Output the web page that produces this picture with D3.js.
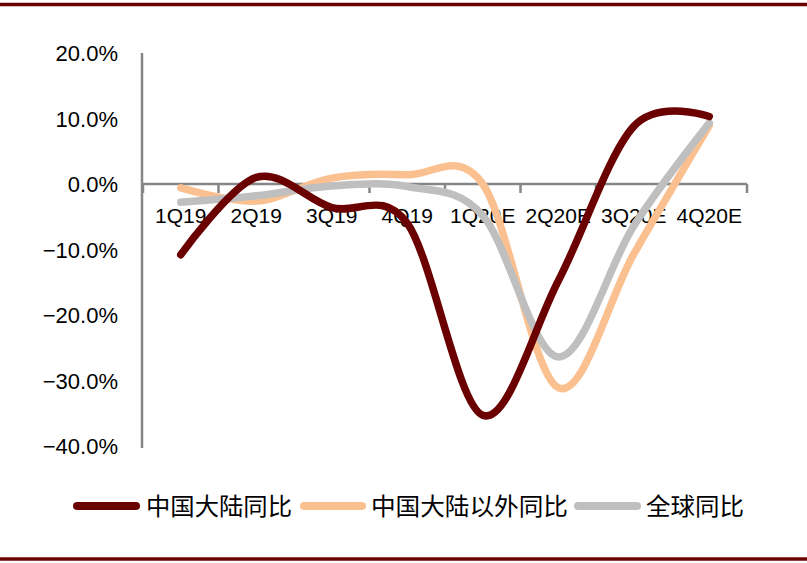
<!DOCTYPE html>
<html><head><meta charset="utf-8">
<script src="https://cdn.jsdelivr.net/npm/d3@7"></script>
<style>body{margin:0;background:#fff}svg{display:block}</style>
</head><body>
<svg id="c" width="807" height="563"></svg>
<script>
const categories = ["1Q19","2Q19","3Q19","4Q19","1Q20E","2Q20E","3Q20E","4Q20E"];
const seriesNames = ["中国大陆同比","中国大陆以外同比","全球同比"];
const chinaMainland = [-10.8, 1.0, -3.6, -6.0, -35.3, -14.8, 8.8, 10.3];
const outsideChina  = [-0.6, -2.6, 0.9, 1.4, 0.0, -31.1, -10.7, 8.9];
const globalYoY     = [-2.8, -1.8, -0.3, -0.4, -4.8, -26.4, -6.4, 9.3];
const yTicks = [20, 10, 0, -10, -20, -30, -40];
const colors = ["#6B0000", "#FAC090", "#BFBFBF"];

const svg = d3.select("#c");
const x = d3.scaleBand().domain(categories).range([143, 747]);
const y = d3.scaleLinear().domain([-40, 20]).range([446, 53]);
const cx = c => x(c) + x.bandwidth() / 2;

// borders
svg.append("line").attr("x1",0).attr("x2",807).attr("y1",4.5).attr("y2",4.5)
  .attr("stroke","#6B0000").attr("stroke-width",3.5);
svg.append("line").attr("x1",0).attr("x2",807).attr("y1",559).attr("y2",559)
  .attr("stroke","#6B0000").attr("stroke-width",3.5);

// y axis
svg.append("line").attr("x1",142).attr("x2",142).attr("y1",y(20)).attr("y2",y(-40) + 2)
  .attr("stroke","#868686").attr("stroke-width",2.5);
svg.selectAll("text.yl").data(yTicks).join("text").attr("class","yl")
  .attr("x",118).attr("y",d => y(d) + 8)
  .attr("text-anchor","end").attr("font-family","Liberation Sans, Arial, sans-serif")
  .attr("font-size",22).attr("fill","#000")
  .text(d => d3.format(".1f")(d) + "%");

// x axis
const gx = svg.append("g").attr("transform", `translate(0,${y(0)})`);
gx.append("line").attr("x1",142).attr("x2",747).attr("y1",0).attr("y2",0)
  .attr("stroke","#868686").attr("stroke-width",2.5);
const bounds = categories.map(c => x(c)).concat([x.range()[1]]);
gx.selectAll("line.tk").data(bounds).join("line").attr("class","tk")
  .attr("x1",d=>d).attr("x2",d=>d).attr("y1",0).attr("y2",9)
  .attr("stroke","#868686").attr("stroke-width",2.5);
svg.selectAll("text.xl").data(categories).join("text").attr("class","xl")
  .attr("x",d => cx(d)).attr("y",223)
  .attr("text-anchor","middle").attr("font-family","Liberation Sans, Arial, sans-serif")
  .attr("font-size",21).attr("fill","#000").text(d => d);

// lines
const line = d3.line().x((d,i) => cx(categories[i])).y(d => y(d)).curve(d3.curveCardinal.tension(0));
const data = [chinaMainland, outsideChina, globalYoY];
[1, 2, 0].forEach(k => {
  svg.append("path").attr("d", line(data[k])).attr("fill","none")
    .attr("stroke", colors[k]).attr("stroke-width", 7.5)
    .attr("stroke-linecap","round").attr("stroke-linejoin","round");
});

// legend
const leg = [
  {sx1:77, sx2:136, tx:146, tw:146},
  {sx1:304, sx2:362, tx:371, tw:197},
  {sx1:578, sx2:637, tx:646, tw:98}
];
leg.forEach((l,i) => {
  svg.append("line").attr("x1",l.sx1).attr("x2",l.sx2).attr("y1",506).attr("y2",506)
    .attr("stroke",colors[i]).attr("stroke-width",8).attr("stroke-linecap","round");
  svg.append("text").attr("x",l.tx).attr("y",515)
    .attr("font-family","Noto Sans CJK SC, sans-serif").attr("font-size",24)
    .attr("fill","#000").attr("textLength",l.tw).attr("lengthAdjust","spacingAndGlyphs")
    .text(seriesNames[i]);
});
</script>
</body></html>
